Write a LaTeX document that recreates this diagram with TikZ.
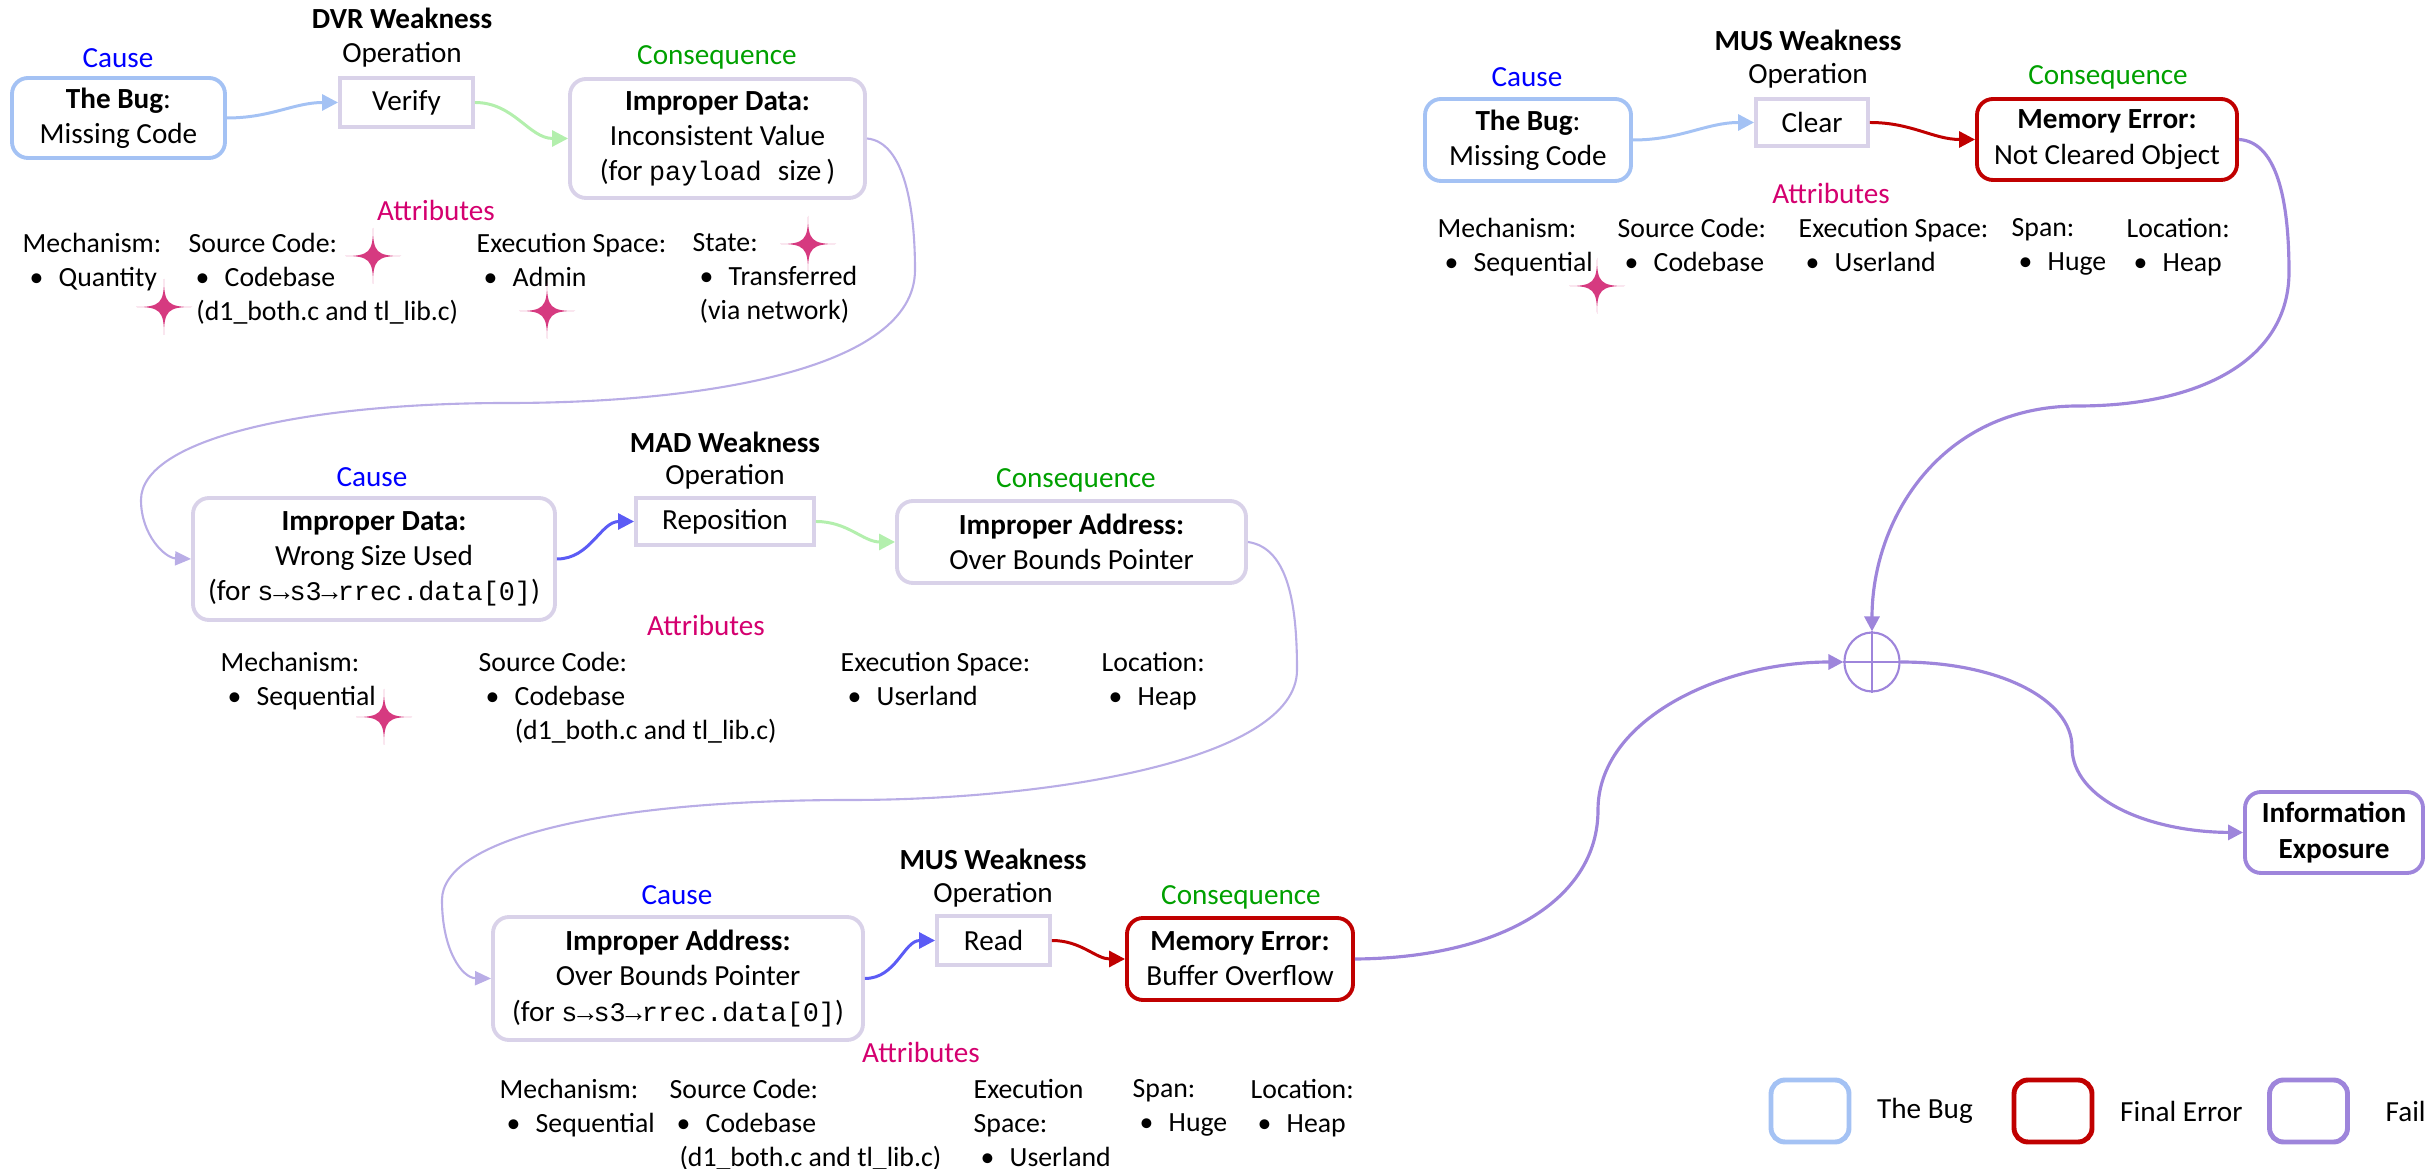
\documentclass[tikz,border=0pt]{standalone}
\usepackage{fontspec}
\setmainfont{Carlito}
\setmonofont{Liberation Mono}[Scale=0.92]
\usetikzlibrary{positioning,arrows.meta,shapes.geometric}
\definecolor{bugblue}{HTML}{A4C2F4}
\definecolor{errred}{HTML}{C00000}
\definecolor{failpurple}{HTML}{9E85DB}
\definecolor{lilac}{HTML}{D9D2E9}
\definecolor{linkpurple}{HTML}{B9ADE6}
\definecolor{opblue}{HTML}{5B5BF5}
\definecolor{opgreen}{HTML}{B3EFAD}
\definecolor{causeblue}{HTML}{0000FF}
\definecolor{consgreen}{HTML}{00A000}
\definecolor{attrpink}{HTML}{D4006F}
\definecolor{starpink}{HTML}{D63A80}
\newcommand{\itemb}[1]{\hspace*{.25em}\textbullet\hspace{.55em}#1}

\begin{document}
\begin{tikzpicture}[x=0.1mm,y=-0.1mm,
      font=\fontsize{8.3}{10}\selectfont,
      box/.style={draw,line width=1.1pt,rounded corners=1.6mm,align=center,inner sep=2pt},
      bugbox/.style={box,draw=bugblue},
      wkbox/.style={box,draw=lilac},
      errbox/.style={box,draw=errred},
      failbox/.style={box,draw=failpurple},
      opbox/.style={draw=lilac,line width=1.1pt,align=center,inner sep=2pt},
      cause/.style={text=causeblue},
      cons/.style={text=consgreen},
      attrs/.style={text=attrpink},
      col/.style={anchor=north west,inner sep=0pt,align=left,font=\fontsize{7.9}{9.6}\selectfont},
      fl/.style={-{Triangle[length=1.6mm,width=1.6mm]},line width=0.85pt},
      lnk/.style={-{Triangle[length=1.6mm,width=1.4mm]},draw=linkpurple,line width=0.6pt},
      fail/.style={-{Triangle[length=1.5mm,width=1.5mm]},draw=failpurple,line width=0.9pt},
      sparkle/.pic={\fill[starpink] (0,28) .. controls (0,4) and (4,0) .. (28,0)
        .. controls (4,0) and (0,-4) .. (0,-28) .. controls (0,-4) and (-4,0) .. (-28,0)
        .. controls (-4,0) and (0,4) .. cycle;}]
    \useasboundingbox (0,0) rectangle (2428,1169);

    % DVR weakness
    \node (w1) at (402,18) {\textbf{DVR Weakness}};
    \node (o1) at (402,55) {Operation};
    \node[cause] (c1) at (118,58) {Cause};
    \node[cons] (q1) at (717,57) {Consequence};
    \node[bugbox,minimum width=21.3mm,minimum height=8mm] (bug1) at (118.5,118) {\textbf{The Bug}:\\Missing Code};
    \node[opbox,minimum width=13.3mm,minimum height=4.9mm] (op1) at (406.5,102.5) {Verify};
    \node[wkbox,minimum width=29.5mm,minimum height=11.9mm] (cons1) at (717.5,138.5)
      {\textbf{Improper Data:}\\Inconsistent Value\\(for \texttt{payload }size\,)};
    \node[attrs] (a1) at (436,210) {Attributes};
    \node[col] (m1) at (22,233) {Mechanism:\\\itemb{Quantity}};
    \node[col] (s1) at (188,233) {Source Code:\\\itemb{Codebase}\\\hspace*{2.2pt}(d1\_both.c and tl\_lib.c)};
    \node[col] (e1) at (476,233) {Execution Space:\\\itemb{Admin}};
    \node[col] (t1) at (692,233) {State:\\\itemb{Transferred}\\\hspace*{2pt}(via network)};
    \foreach \p in {(373,256),(164,307),(547,311),(808,244)} \pic at \p {sparkle};
    \draw[fl,bugblue] (bug1.east) to[out=0,in=180] (op1.west);
    \draw[fl,opgreen] (op1.east) to[out=0,in=180] (cons1.west);

    % MAD weakness
    \node (w2) at (725,442) {\textbf{MAD Weakness}};
    \node (o2) at (725,477) {Operation};
    \node[cause] (c2) at (372,477) {Cause};
    \node[cons] (q2) at (1076,480) {Consequence};
    \node[wkbox,minimum width=36.2mm,minimum height=12.2mm] (cause2) at (374,559)
      {\textbf{Improper Data:}\\Wrong Size Used\\(for \texttt{s→s3→rrec.data[0]})};
    \node[opbox,minimum width=17.8mm,minimum height=4.7mm] (op2) at (725,521.5) {Reposition};
    \node[wkbox,minimum width=34.9mm,minimum height=8.2mm] (cons2) at (1071.5,542)
      {\textbf{Improper Address:}\\Over Bounds Pointer};
    \node[attrs] (a2) at (706,625) {Attributes};
    \node[col] (m2) at (220,652) {Mechanism:\\\itemb{Sequential}};
    \node[col] (s2) at (478,652) {Source Code:\\\itemb{Codebase}\\\hspace*{1.3em}(d1\_both.c and tl\_lib.c)};
    \node[col] (e2) at (840,652) {Execution Space:\\\itemb{Userland}};
    \node[col] (l2) at (1101,652) {Location:\\\itemb{Heap}};
    \pic at (384,717) {sparkle};
    \draw[fl,opblue] (cause2.east) to[out=0,in=180] (op2.west);
    \draw[fl,opgreen] (op2.east) to[out=0,in=180] (cons2.west);

    % MUS weakness (read)
    \node (w3) at (993,859) {\textbf{MUS Weakness}};
    \node (o3) at (993,895) {Operation};
    \node[cause] (c3) at (677,895) {Cause};
    \node[cons] (q3) at (1241,897) {Consequence};
    \node[wkbox,minimum width=37mm,minimum height=12.3mm] (cause3) at (678,978.5)
      {\textbf{Improper Address:}\\Over Bounds Pointer\\(for \texttt{s→s3→rrec.data[0]})};
    \node[opbox,minimum width=11.3mm,minimum height=4.9mm] (op3) at (993.5,940.5) {Read};
    \node[errbox,minimum width=22.6mm,minimum height=8.2mm] (cons3) at (1240,959)
      {\textbf{Memory Error:}\\Buffer Overflow};
    \node[attrs] (a3) at (921,1052) {Attributes};
    \node[col] (m3) at (499,1079) {Mechanism:\\\itemb{Sequential}};
    \node[col] (s3) at (669,1079) {Source Code:\\\itemb{Codebase}\\\hspace*{2.8pt}(d1\_both.c and tl\_lib.c)};
    \node[col] (e3) at (973,1079) {Execution\\Space:\\\itemb{Userland}};
    \node[col] (p3) at (1132,1079) {Span:\\\itemb{Huge}};
    \node[col] (l3) at (1250,1079) {Location:\\\itemb{Heap}};
    \draw[fl,opblue] (cause3.east) to[out=0,in=180] (op3.west);
    \draw[fl,errred] (op3.east) to[out=0,in=180] (cons3.west);

    % MUS weakness (clear)
    \node (w4) at (1808,40) {\textbf{MUS Weakness}};
    \node (o4) at (1808,76) {Operation};
    \node[cause] (c4) at (1527,77) {Cause};
    \node[cons] (q4) at (2108,77) {Consequence};
    \node[bugbox,minimum width=20.6mm,minimum height=8.2mm] (bug4) at (1528,140) {\textbf{The Bug}:\\Missing Code};
    \node[opbox,minimum width=11.2mm,minimum height=4.7mm] (op4) at (1812,122.5) {Clear};
    \node[errbox,minimum width=26mm,minimum height=8.1mm] (cons4) at (2107,139.5)
      {\textbf{Memory Error:}\\Not Cleared Object};
    \node[attrs] (a4) at (1831,193) {Attributes};
    \node[col] (m4) at (1437,218) {Mechanism:\\\itemb{Sequential}};
    \node[col] (s4) at (1617,218) {Source Code:\\\itemb{Codebase}};
    \node[col] (e4) at (1798,218) {Execution Space:\\\itemb{Userland}};
    \node[col] (p4) at (2011,218) {Span:\\\itemb{Huge}};
    \node[col] (l4) at (2126,218) {Location:\\\itemb{Heap}};
    \pic at (1597,286) {sparkle};
    \draw[fl,bugblue] (bug4.east) to[out=0,in=180] (op4.west);
    \draw[fl,errred] (op4.east) to[out=0,in=180] (cons4.west);

    % chaining between weaknesses
    \draw[lnk] (cons1.east) .. controls (905,142) and (915,210) .. (915,270)
      .. controls (915,370) and (700,403) .. (508,403)
      .. controls (300,403) and (141,440) .. (141,500)
      .. controls (141,535) and (165,558) .. (cause2.west);
    \draw[lnk] (cons2.east) .. controls (1290,548) and (1297,610) .. (1297,670)
      .. controls (1297,760) and (1050,800) .. (850,800)
      .. controls (600,800) and (442,840) .. (442,900)
      .. controls (442,950) and (462,978) .. (cause3.west);

    % final errors -> failure
    \node[ellipse,draw=failpurple,line width=0.6pt,minimum width=5.5mm,minimum height=5.9mm,inner sep=0pt] (join) at (1872,662) {};
    \draw[failpurple,line width=0.6pt] (join.north) -- (join.south) (join.west) -- (join.east);
    \node[failbox,minimum width=17.8mm,minimum height=8.1mm] (info) at (2334,832.5)
      {\textbf{Information}\\\textbf{Exposure}};
    \draw[fail] (cons4.east) .. controls (2280,142) and (2289,210) .. (2289,272)
      .. controls (2289,360) and (2200,406) .. (2078,406)
      .. controls (1940,406) and (1872,520) .. (join.north);
    \draw[fail] (cons3.east) .. controls (1500,958) and (1598,900) .. (1598,810)
      .. controls (1598,720) and (1720,662) .. (join.west);
    \draw[fail] (join.east) .. controls (2000,662) and (2072,700) .. (2072,747)
      .. controls (2072,800) and (2150,832) .. (info.west);

    % legend
    \node[bugbox,line width=1.4pt,rounded corners=1.4mm,minimum width=7.8mm,minimum height=6.2mm] (lg1) at (1810,1111) {};
    \node[right=2.5mm of lg1,inner sep=0pt] (lt1) {The Bug};
    \node[errbox,line width=1.4pt,rounded corners=1.4mm,minimum width=7.8mm,minimum height=6.2mm] (lg2) at (2053,1111) {};
    \node[right=2.5mm of lg2,inner sep=0pt] (lt2) {Final Error};
    \node[failbox,line width=1.4pt,rounded corners=1.4mm,minimum width=7.8mm,minimum height=6.2mm] (lg3) at (2308.5,1111) {};
    \node[right=3.5mm of lg3,inner sep=0pt] (lt3) {Fail};
  \end{tikzpicture}
\end{document}
